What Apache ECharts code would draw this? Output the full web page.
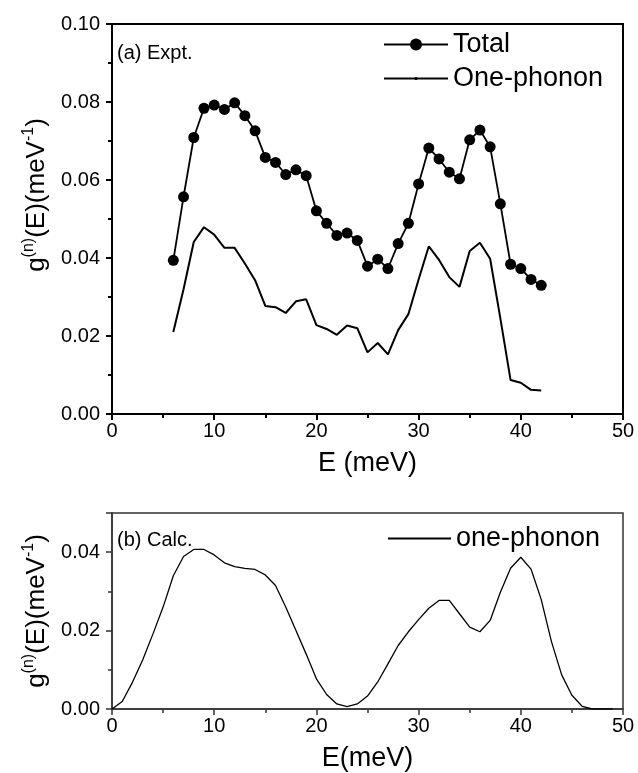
<!DOCTYPE html>
<html><head><meta charset="utf-8">
<script src="https://cdn.jsdelivr.net/npm/echarts@6/dist/echarts.min.js"></script>
<style>html,body{margin:0;padding:0;background:#fff}#c{width:638px;height:773px}</style>
</head><body><div id="c"></div>
<script>
// ---- Data ----
const exptEnergy = [6,7,8,9,10,11,12,13,14,15,16,17,18,19,20,21,22,23,24,25,26,27,28,29,30,31,32,33,34,35,36,37,38,39,40,41,42];
const totalExpt = [0.0394,0.0557,0.0709,0.0784,0.0792,0.0781,0.0798,0.0765,0.0726,0.0658,0.0645,0.0614,0.0626,0.0611,0.0521,0.0489,0.0458,0.0464,0.0445,0.0379,0.0397,0.0373,0.0437,0.0489,0.0590,0.0682,0.0654,0.0620,0.0603,0.0703,0.0728,0.0685,0.0539,0.0384,0.0373,0.0345,0.0330];
const onePhononExpt = [0.0210,0.0320,0.0441,0.0479,0.0460,0.0426,0.0426,0.0386,0.0343,0.0277,0.0274,0.0259,0.0289,0.0294,0.0228,0.0218,0.0203,0.0227,0.0220,0.0158,0.0182,0.0153,0.0215,0.0256,0.0345,0.0430,0.0395,0.0351,0.0326,0.0418,0.0439,0.0398,0.0245,0.0087,0.0080,0.0062,0.0060];
const calcEnergy = [0,1,2,3,4,5,6,7,8,9,10,11,12,13,14,15,16,17,18,19,20,21,22,23,24,25,26,27,28,29,30,31,32,33,34,35,36,37,38,39,40,41,42,43,44,45,46,47,48,49];
const onePhononCalc = [0.0000,0.0019,0.0068,0.0125,0.0191,0.0260,0.0340,0.0389,0.0407,0.0407,0.0393,0.0373,0.0363,0.0359,0.0356,0.0342,0.0315,0.0260,0.0200,0.0140,0.0077,0.0037,0.0013,0.0006,0.0013,0.0033,0.0069,0.0115,0.0162,0.0197,0.0228,0.0257,0.0277,0.0277,0.0243,0.0209,0.0197,0.0226,0.0298,0.0359,0.0387,0.0357,0.0279,0.0172,0.0087,0.0035,0.0007,0.0000,0.0000,0.0000];
const seriesNames = ['Total', 'One-phonon', 'one-phonon'];
const panelLabels = ['(a) Expt.', '(b) Calc.'];
const xAxisTitles = ['E (meV)', 'E(meV)'];
const yAxisTitle = '{m|g}{s|(n)}{m|(E)(meV}{s|-1}{m|)}';

// ---- Chart ----
const FONT = 'Liberation Sans, Arial, sans-serif';
const pairs = (xs, ys) => xs.map((x, i) => [x, ys[i]]);
const fmt2 = v => v.toFixed(2);

function xAxisCfg(gridIndex, name, col, w) {
  return {
    gridIndex, type: 'value', min: 0, max: 50, interval: 10,
    axisLine: { show: true, onZero: false, lineStyle: { color: col, width: w } },
    axisTick: { show: true, inside: false, length: 6, lineStyle: { color: col, width: w } },
    minorTick: { show: true, splitNumber: 2, length: 4, lineStyle: { color: col, width: w } },
    splitLine: { show: false },
    axisLabel: { fontSize: 20, color: '#000', margin: 7, fontFamily: FONT },
    name, nameLocation: 'middle', nameGap: 36,
    nameTextStyle: { fontSize: 27, color: '#000', fontFamily: FONT }
  };
}
function yAxisCfg(gridIndex, max, col, w, shift) {
  return {
    gridIndex, type: 'value', min: 0, max, interval: 0.02,
    axisLine: { show: true, onZero: false, lineStyle: { color: col, width: w } },
    axisTick: { show: true, inside: false, length: 6, lineStyle: { color: col, width: w } },
    minorTick: { show: true, splitNumber: 2, length: 4, lineStyle: { color: col, width: w } },
    splitLine: { show: false },
    axisLabel: { fontSize: 20, color: '#000', margin: 12, formatter: fmt2, fontFamily: FONT, showMaxLabel: max < 0.1 ? false : true },
    name: yAxisTitle, nameLocation: 'middle', nameGap: 56, nameRotate: 90,
    nameTextStyle: {
      color: '#000', fontFamily: FONT, padding: [0, 0, 0, shift],
      rich: {
        m: { fontSize: 26, lineHeight: 30, verticalAlign: 'bottom', fontFamily: FONT, color: '#000' },
        s: { fontSize: 16, lineHeight: 16, verticalAlign: 'top', fontFamily: FONT, color: '#000' }
      }
    }
  };
}

const chart = echarts.init(document.getElementById('c'), null, { renderer: 'canvas' });
const option = {
  animation: false,
  backgroundColor: '#fff',
  textStyle: { fontFamily: FONT },
  grid: [
    { left: 112, top: 24, width: 511, height: 390, show: true, borderColor: '#000', borderWidth: 2, backgroundColor: 'transparent' },
    { left: 112, top: 513, width: 511, height: 198, show: true, borderColor: '#333', borderWidth: 1.5, backgroundColor: 'transparent' }
  ],
  xAxis: [xAxisCfg(0, xAxisTitles[0], '#000', 2), xAxisCfg(1, xAxisTitles[1], '#333', 1.5)],
  yAxis: [yAxisCfg(0, 0.10, '#000', 2, 48), yAxisCfg(1, 0.05, '#333', 1.5, 0)],
  legend: [
    { data: [seriesNames[0]], left: 378, top: 26, itemWidth: 64, itemHeight: 15, selectedMode: false,
      textStyle: { fontSize: 27, color: '#000', fontFamily: FONT } },
    { data: [seriesNames[1]], left: 378, top: 60, itemWidth: 64, itemHeight: 4, selectedMode: false,
      textStyle: { fontSize: 27, color: '#000', fontFamily: FONT } },
    { data: [seriesNames[2]], left: 382, top: 520, itemWidth: 63, itemHeight: 1, selectedMode: false,
      textStyle: { fontSize: 27, color: '#000', fontFamily: FONT } }
  ],
  graphic: [
    { type: 'text', left: 117, top: 43, style: { text: panelLabels[0], fontSize: 20, fill: '#000', fontFamily: FONT } },
    { type: 'text', left: 117, top: 530, style: { text: panelLabels[1], fontSize: 20, fill: '#000', fontFamily: FONT } }
  ],
  series: [
    { name: seriesNames[0], type: 'line', xAxisIndex: 0, yAxisIndex: 0, data: pairs(exptEnergy, totalExpt),
      symbol: 'circle', symbolSize: 11, showSymbol: true,
      lineStyle: { color: '#000', width: 1.8 }, itemStyle: { color: '#000' }, z: 3 },
    { name: seriesNames[1], type: 'line', xAxisIndex: 0, yAxisIndex: 0, data: pairs(exptEnergy, onePhononExpt),
      symbol: 'circle', symbolSize: 2, showSymbol: false,
      lineStyle: { color: '#000', width: 2 }, itemStyle: { color: '#000' } },
    { name: seriesNames[2], type: 'line', xAxisIndex: 1, yAxisIndex: 1, data: pairs(calcEnergy, onePhononCalc),
      symbol: 'none', lineStyle: { color: '#000', width: 1.3 }, itemStyle: { color: '#000' } }
  ]
};
chart.setOption(option);
</script>
</body></html>
